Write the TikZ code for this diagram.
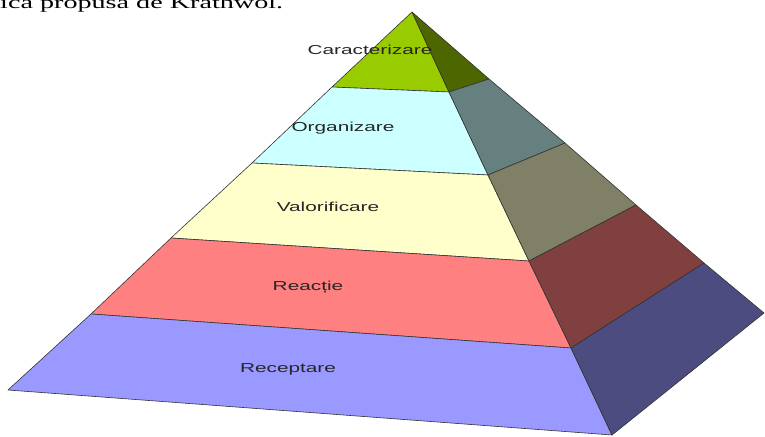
\documentclass[tikz,border=0pt]{standalone}
\usepackage{fontspec}
\setmainfont{Liberation Serif}
\newfontfamily\labelfont[FakeStretch=1.6]{Liberation Sans}
\newfontfamily\bodyfont[FakeStretch=1.6]{Liberation Serif}
\definecolor{CaracFront}{HTML}{99CC00}
\definecolor{CaracSide}{HTML}{4D6600}
\definecolor{OrgFront}{HTML}{CCFFFF}
\definecolor{OrgSide}{HTML}{668080}
\definecolor{ValFront}{HTML}{FFFFCC}
\definecolor{ValSide}{HTML}{808066}
\definecolor{ReacFront}{HTML}{FF8080}
\definecolor{ReacSide}{HTML}{804040}
\definecolor{RecFront}{HTML}{9999FF}
\definecolor{RecSide}{HTML}{4C4C80}
\begin{document}
\begin{tikzpicture}[x=1pt,y=-1pt]
\tikzstyle{every node}=[font=\labelfont\fontsize{13}{15}\selectfont, text=black!85]
\tikzstyle{face}=[draw=black!80, line width=0.6pt, line join=round]
\useasboundingbox (0,0) rectangle (765,436);
\clip (0,0) rectangle (765,436);
\coordinate (Apex)   at (412,12);
\coordinate (LeftA)  at (332,87);
\coordinate (FrontA) at (449,92);
\coordinate (RightA) at (489,79);
\coordinate (LeftB)  at (252,163);
\coordinate (FrontB) at (488,175);
\coordinate (RightB) at (565,143);
\coordinate (LeftC)  at (171,238);
\coordinate (FrontC) at (529,261);
\coordinate (RightC) at (636,205);
\coordinate (LeftD)  at (91,314);
\coordinate (FrontD) at (571,348);
\coordinate (RightD) at (704,263);
\coordinate (LeftE)  at (8,390);
\coordinate (FrontE) at (612,435);
\coordinate (RightE) at (764,313);
% top level
\draw [face, fill=CaracFront] (Apex) -- (LeftA) -- (FrontA) -- cycle;
\draw [face, fill=CaracSide] (Apex) -- (FrontA) -- (RightA) -- cycle;
% second level
\draw [face, fill=OrgFront] (LeftA) -- (LeftB) -- (FrontB) -- (FrontA) -- cycle;
\draw [face, fill=OrgSide] (FrontA) -- (FrontB) -- (RightB) -- (RightA) -- cycle;
% third level
\draw [face, fill=ValFront] (LeftB) -- (LeftC) -- (FrontC) -- (FrontB) -- cycle;
\draw [face, fill=ValSide] (FrontB) -- (FrontC) -- (RightC) -- (RightB) -- cycle;
% fourth level
\draw [face, fill=ReacFront] (LeftC) -- (LeftD) -- (FrontD) -- (FrontC) -- cycle;
\draw [face, fill=ReacSide] (FrontC) -- (FrontD) -- (RightD) -- (RightC) -- cycle;
% base level
\draw [face, fill=RecFront] (LeftD) -- (LeftE) -- (FrontE) -- (FrontD) -- cycle;
\draw [face, fill=RecSide] (FrontD) -- (FrontE) -- (RightE) -- (RightD) -- cycle;
\node (Caracterizare) at (370,50)  {Caracterizare};
\node (Organizare)    at (343,128) {Organizare};
\node (Valorificare)  at (328,207) {Valorificare};
\node (Reactie)       at (308,287) {Reacție};
\node (Receptare)     at (288,369) {Receptare};
\node [font=\bodyfont\fontsize{17.6}{20}\selectfont, text=black, anchor=base west, inner sep=0pt] (Caption) at (0,8.5) {ica propusă de Krathwol.};
\end{tikzpicture}
\end{document}
